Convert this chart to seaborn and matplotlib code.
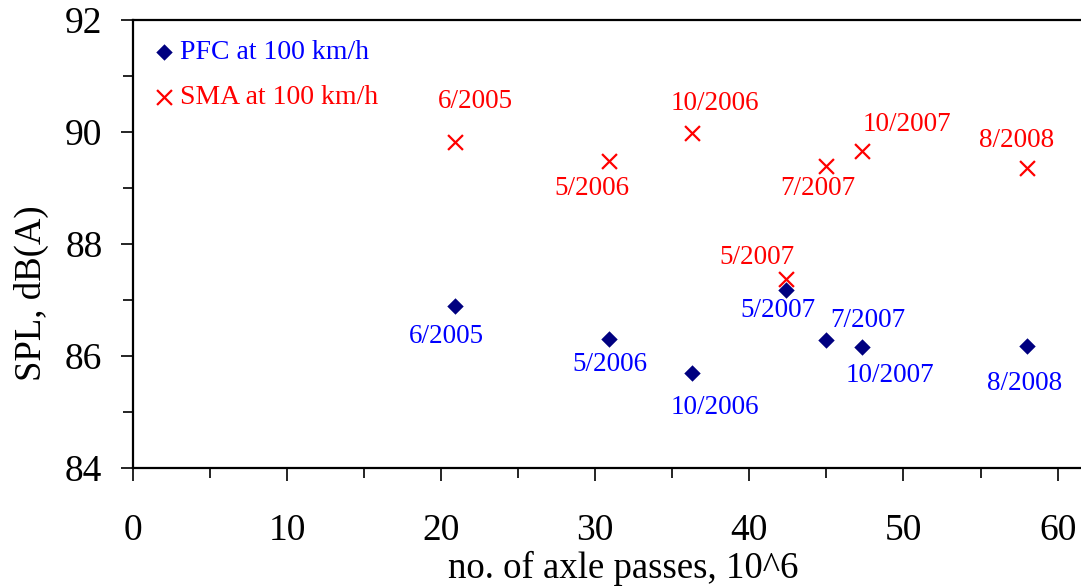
import numpy as np
import pandas as pd
import matplotlib
matplotlib.use('Agg')
import matplotlib.pyplot as plt
import seaborn as sns
from matplotlib.ticker import MultipleLocator

# data
pfc_passes = [20.9, 30.9, 36.3, 42.4, 45.0, 47.3, 58.0]
pfc_spl = [86.90, 86.31, 85.70, 87.17, 86.28, 86.16, 86.17]
pfc_dates = ['6/2005', '5/2006', '10/2006', '5/2007', '7/2007', '10/2007', '8/2008']

sma_passes = [20.9, 30.9, 36.3, 42.4, 45.0, 47.3, 58.0]
sma_spl = [89.82, 89.49, 89.99, 87.38, 89.40, 89.66, 89.36]
sma_dates = ['6/2005', '5/2006', '10/2006', '5/2007', '7/2007', '10/2007', '8/2008']

# label offsets in pixels (dx right, dy down)
pfc_offsets = [(-9, 31), (1, 26), (23, 35), (-8, 20), (41, -20), (28, 28), (-2, 37)]
sma_offsets = [(20, -41), (-17, 28), (23, -29), (-29, -21), (-9, 23), (45, -27), (-10, -27)]

sns.set_style('ticks')
plt.rcParams['font.family'] = ['Liberation Serif', 'DejaVu Serif']
plt.rcParams['text.color'] = 'black'
plt.rcParams['axes.labelcolor'] = 'black'

fig = plt.figure(figsize=(10.81, 5.86), dpi=100)
ax = fig.add_axes([133 / 1081, 118 / 586, 948 / 1081, 448 / 586])

sns.scatterplot(x=pfc_passes, y=pfc_spl, marker='D', color='#000080', s=70,
                linewidth=0, label='PFC at 100 km/h', ax=ax, zorder=3)
sns.scatterplot(x=sma_passes, y=sma_spl, marker='x', color='#ff0000', s=115,
                linewidth=1.6, label='SMA at 100 km/h', ax=ax, zorder=3)

for x, y, t, (dx, dy) in zip(pfc_passes, pfc_spl, pfc_dates, pfc_offsets):
    ax.annotate(t, (x, y), xytext=(dx, -dy), textcoords='offset pixels',
                ha='center', va='center', color='#0000ff', fontsize=19.5)
for x, y, t, (dx, dy) in zip(sma_passes, sma_spl, sma_dates, sma_offsets):
    ax.annotate(t, (x, y), xytext=(dx, -dy), textcoords='offset pixels',
                ha='center', va='center', color='#ff0000', fontsize=19.5)

ax.set_xlim(0, 948 / 15.41)
ax.set_ylim(84, 92)
ax.xaxis.set_major_locator(MultipleLocator(10))
ax.xaxis.set_minor_locator(MultipleLocator(5))
ax.yaxis.set_major_locator(MultipleLocator(2))
ax.yaxis.set_minor_locator(MultipleLocator(1))
ax.tick_params(which='major', direction='out', length=9, width=1.2,
               labelsize=27, colors='black')
ax.tick_params(axis='x', which='major', pad=24)
ax.tick_params(axis='y', which='major', pad=13)
ax.tick_params(which='minor', direction='out', length=7, width=1.2, colors='black')

for side in ['left', 'bottom', 'top']:
    ax.spines[side].set_linewidth(1.6)
    ax.spines[side].set_color('black')
ax.spines['right'].set_visible(False)

ax.set_xlabel('no. of axle passes, 10^6', fontsize=26.5)
ax.set_ylabel('SPL, dB(A)', fontsize=26.5)
ax.xaxis.set_label_coords(0.517, -0.185)
ax.yaxis.set_label_coords(-0.089, 0.39)

leg = ax.legend(loc='upper left', bbox_to_anchor=(-0.002, 1.0), frameon=False,
                fontsize=20, handletextpad=0.05, handlelength=1.0,
                labelspacing=0.72, borderaxespad=0.3,
                labelcolor=['#0000ff', '#ff0000'])

fig.savefig('out.png', dpi=100)
